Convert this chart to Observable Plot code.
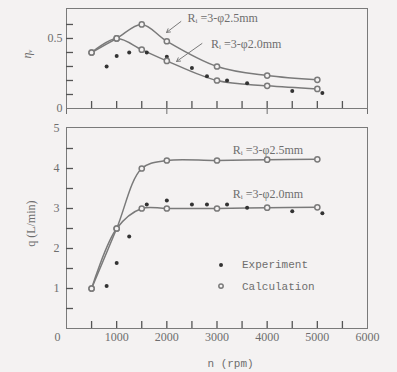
<!DOCTYPE html>
<html><head><meta charset="utf-8">
<script src="https://cdn.jsdelivr.net/npm/d3@7"></script>
<script src="https://cdn.jsdelivr.net/npm/@observablehq/plot@0.6"></script>
<style>
html,body{margin:0;padding:0;background:#f4f2f2;}
#chart svg{display:block;}
</style></head><body><div id="chart"></div>
<script>
// --- data ---
const speedCalc = [500, 1000, 1500, 2000, 3000, 4000, 5000];
const etaCalc25 = [0.40, 0.50, 0.60, 0.48, 0.30, 0.235, 0.205];
const etaCalc20 = [0.40, 0.50, 0.42, 0.34, 0.20, 0.162, 0.14];
const speedExp = [800, 1000, 1250, 1600, 2000, 2500, 2800, 3200, 3600, 4500, 5100];
const etaExp = [0.30, 0.375, 0.40, 0.40, 0.37, 0.29, 0.23, 0.20, 0.18, 0.125, 0.11];
const qCalc25 = [1.0, 2.5, 4.0, 4.2, 4.2, 4.22, 4.23];
const qCalc20 = [1.0, 2.5, 3.0, 3.0, 3.0, 3.02, 3.03];
const qExp = [1.06, 1.64, 2.3, 3.1, 3.2, 3.1, 3.1, 3.1, 3.02, 2.93, 2.88];
const seriesLabels = ["Rᵢ =3-φ2.5mm", "Rᵢ =3-φ2.0mm"];
const legendLabels = ["Experiment", "Calculation"];
const xTickLabels = [1000, 2000, 3000, 4000, 5000, 6000];
const minorX = [500, 1000, 1500, 2000, 2500, 3000, 3500, 4000, 4500, 5000, 5500];
const minorEta = [0.1, 0.2, 0.3, 0.4, 0.5, 0.6];
const minorQ = [0.5, 1, 1.5, 2, 2.5, 3, 3.5, 4, 4.5];

const ink = "#7a7a7a", tickInk = "#555", txt = "#6e6e6e", dark = "#333", bg = "#f4f2f2";
const serif = "Liberation Serif", mono = "Liberation Mono";

const calc = speedCalc.map((n, i) => ({n, e25: etaCalc25[i], e20: etaCalc20[i], q25: qCalc25[i], q20: qCalc20[i]}));
const exp = speedExp.map((n, i) => ({n, e: etaExp[i], q: qExp[i]}));

const topNotes = [
  {x: 2414, y: 0.643, ax1: 2280, ay1: 0.621, ax2: 1994, ay2: 0.543, t: seriesLabels[0]},
  {x: 2880, y: 0.457, ax1: 2700, ay1: 0.464, ax2: 2194, ay2: 0.336, t: seriesLabels[1]}
];
const botNotes = [
  {x: 3314, y: 4.45, t: seriesLabels[0]},
  {x: 3314, y: 3.37, t: seriesLabels[1]}
];
const legendPos = {x: 3080, yExp: 1.59, yCalc: 1.06};

const W = 397, ML = 66, MR = 30;
const common = {width: W, marginLeft: ML, marginRight: MR, style: {background: bg, color: txt, fontFamily: serif, fontSize: "12px"}};
const xTickLen = 6000 * 7 / (W - ML - MR);

const topYMax = 0.714, topTickLen = topYMax * 7 / 100;
const topChart = Plot.plot({
  ...common, height: 118, marginTop: 8, marginBottom: 10,
  x: {domain: [0, 6000]},
  y: {domain: [0, topYMax]},
  marks: [
    Plot.frame({stroke: ink}),
    Plot.ruleX(minorX, {x: d => d, y1: 0, y2: topTickLen, stroke: tickInk, strokeWidth: 1.3}),
    Plot.ruleY(minorEta, {y: d => d, x1: 0, x2: xTickLen, stroke: tickInk, strokeWidth: 1.3}),
    Plot.axisY({ticks: [0, 0.5], tickSize: 0, tickPadding: 4, tickFormat: d => d === 0 ? "0" : "0.5", fill: txt, fontSize: 12}),
    Plot.line(calc, {x: "n", y: "e25", stroke: ink, curve: "catmull-rom"}),
    Plot.line(calc, {x: "n", y: "e20", stroke: ink, curve: "catmull-rom"}),
    Plot.dot(exp, {x: "n", y: "e", r: 2, fill: dark}),
    Plot.dot(calc, {x: "n", y: "e25", r: 2.6, fill: bg, stroke: ink}),
    Plot.dot(calc, {x: "n", y: "e20", r: 2.6, fill: bg, stroke: ink}),
    Plot.arrow(topNotes, {x1: "ax1", y1: "ay1", x2: "ax2", y2: "ay2", stroke: ink, headLength: 6, strokeWidth: 1}),
    Plot.text(topNotes, {x: "x", y: "y", text: "t", textAnchor: "start", fill: txt, fontFamily: serif, fontSize: 12}),
    Plot.text(["ηᵥ"], {x: -780, y: 0.39, text: d => d, rotate: -90, fill: txt, fontSize: 12, fontStyle: "italic"})
  ]
});

const botYMax = 5.025, botTickLen = botYMax * 7 / 201;
const bottomChart = Plot.plot({
  ...common, height: 254, marginTop: 9, marginBottom: 44,
  x: {domain: [0, 6000]},
  y: {domain: [0, botYMax]},
  marks: [
    Plot.frame({stroke: ink}),
    Plot.ruleX(minorX, {x: d => d, y1: 0, y2: botTickLen, stroke: tickInk, strokeWidth: 1.3}),
    Plot.ruleY(minorQ, {y: d => d, x1: 0, x2: xTickLen, stroke: tickInk, strokeWidth: 1.3}),
    Plot.axisX({ticks: xTickLabels, tickSize: 0, tickPadding: 4, tickFormat: d => String(d), fill: txt, fontSize: 12}),
    Plot.axisY({ticks: [1, 2, 3, 4, 5], tickSize: 0, tickPadding: 7, tickFormat: d => String(d), fill: txt, fontSize: 12}),
    Plot.text(["0"], {x: 0, y: 0, text: d => d, dx: -9, dy: 9, fill: txt, fontSize: 12}),
    Plot.line(calc, {x: "n", y: "q25", stroke: ink, curve: "catmull-rom"}),
    Plot.line(calc, {x: "n", y: "q20", stroke: ink, curve: "catmull-rom"}),
    Plot.dot(exp, {x: "n", y: "q", r: 2, fill: dark}),
    Plot.dot(calc, {x: "n", y: "q25", r: 2.6, fill: bg, stroke: ink}),
    Plot.dot(calc, {x: "n", y: "q20", r: 2.6, fill: bg, stroke: ink}),
    Plot.text(botNotes, {x: "x", y: "y", text: "t", textAnchor: "start", fill: txt, fontSize: 12}),
    Plot.dot([legendLabels[0]], {x: legendPos.x, y: legendPos.yExp, r: 2, fill: dark}),
    Plot.dot([legendLabels[1]], {x: legendPos.x, y: legendPos.yCalc, r: 2.2, fill: bg, stroke: ink}),
    Plot.text([legendLabels[0]], {x: legendPos.x, y: legendPos.yExp, text: d => d, dx: 21, textAnchor: "start", fill: txt, fontFamily: mono, fontSize: 11}),
    Plot.text([legendLabels[1]], {x: legendPos.x, y: legendPos.yCalc, text: d => d, dx: 21, textAnchor: "start", fill: txt, fontFamily: mono, fontSize: 11}),
    Plot.text(["q (L/min)"], {x: -700, y: 2.62, text: d => d, rotate: -90, fill: txt, fontSize: 12}),
    Plot.text(["n (rpm)"], {x: 3270, y: 0, dy: 35, text: d => d, fill: txt, fontFamily: mono, fontSize: 11})
  ]
});

const c = document.getElementById("chart");
c.appendChild(topChart);
c.appendChild(bottomChart);
</script>
</body></html>
